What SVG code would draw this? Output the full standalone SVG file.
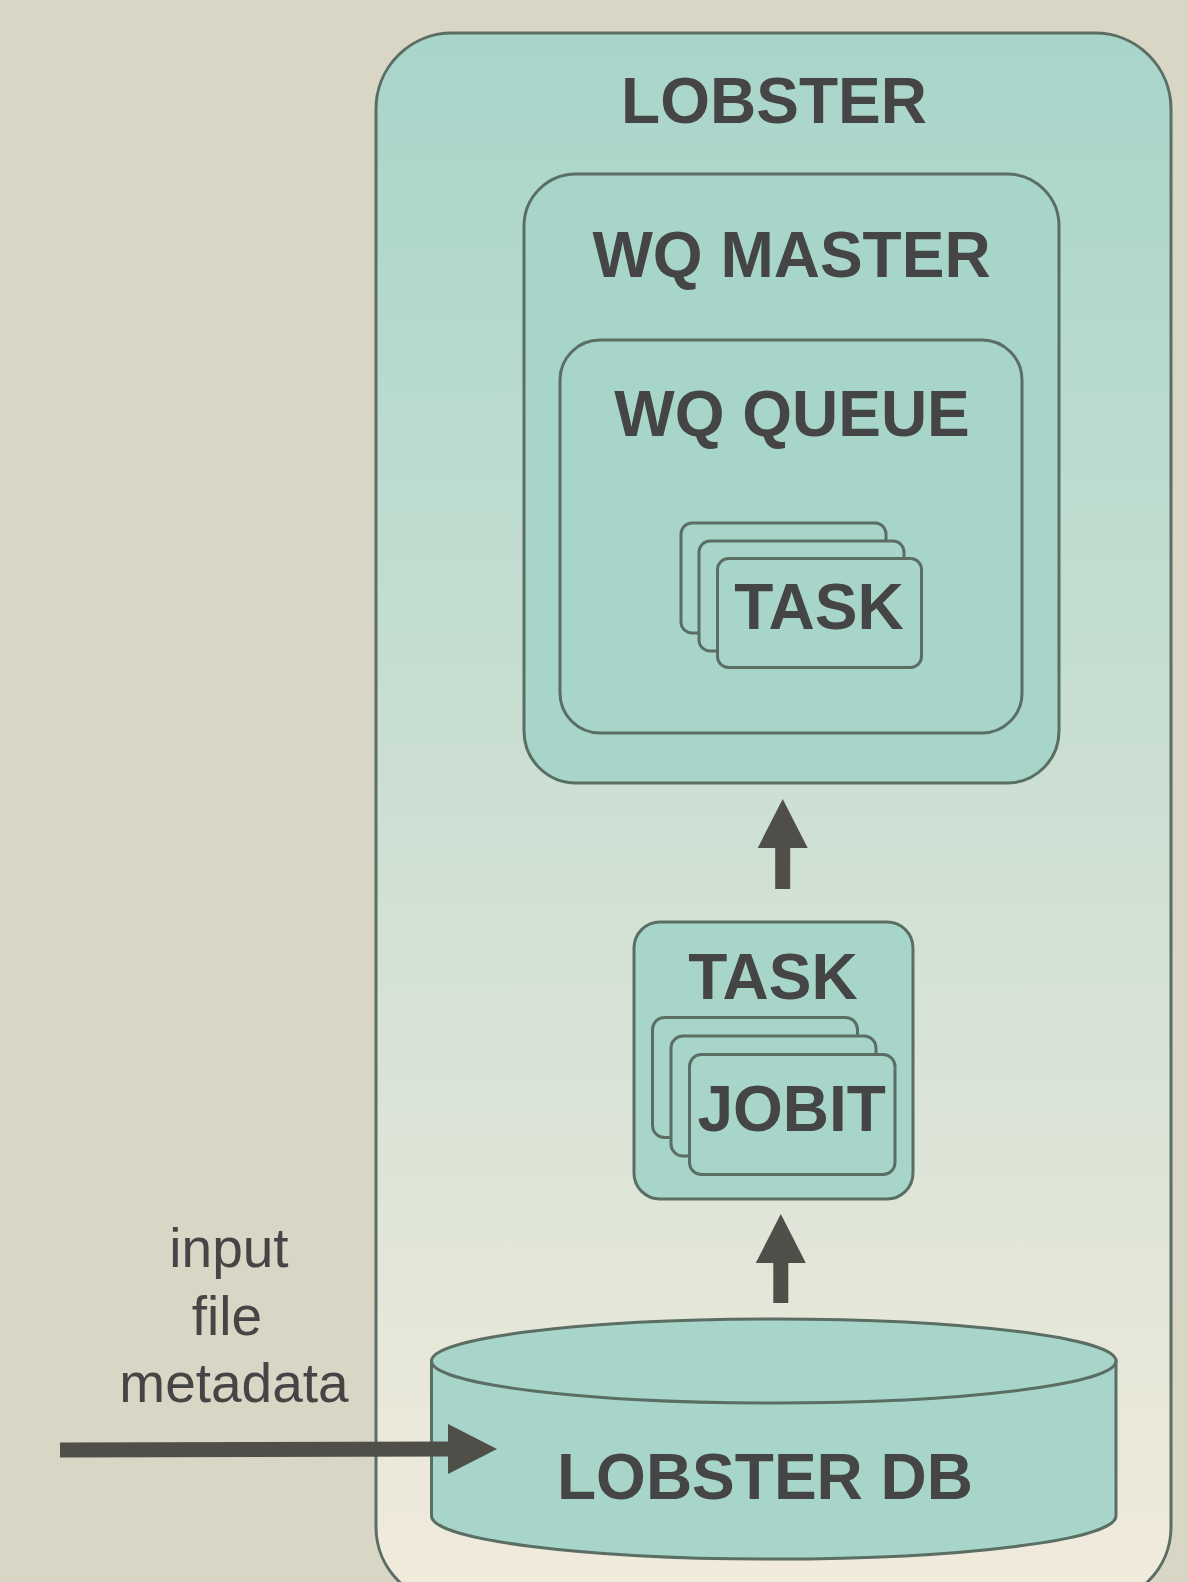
<svg xmlns="http://www.w3.org/2000/svg" width="1188" height="1582" viewBox="0 0 1188 1582">
<style>
.box{fill:#A8D5CA;stroke:#5A6E64;stroke-width:3}
.lbl{font-family:"Liberation Sans",Arial,sans-serif;font-weight:bold;font-size:64px;fill:#454545;text-anchor:middle}
.note{font-family:"Liberation Sans",Arial,sans-serif;font-size:55px;fill:#454545;text-anchor:middle}
.conn{stroke:#4F4E48;stroke-width:15;fill:none}
</style>
<defs>
<linearGradient id="bg" x1="0" y1="33" x2="0" y2="1600" gradientUnits="userSpaceOnUse">
<stop offset="0" stop-color="#A8D5CA"/>
<stop offset="1" stop-color="#F2EBDC"/>
</linearGradient>
<marker id="ah" markerUnits="userSpaceOnUse" markerWidth="50" markerHeight="50" viewBox="0 0 50 50" refX="1" refY="25" orient="auto">
<path d="M0,0 L49,25 L0,50 z" fill="#4F4E48"/>
</marker>
</defs>
<rect width="1188" height="1582" fill="#D9D6C6"/>
<g id="lobster">
<rect x="376" y="33" width="795" height="1570" rx="76" ry="76" fill="url(#bg)" stroke="#5A6E64" stroke-width="3"/>
<text class="lbl" x="774" y="123">LOBSTER</text>
</g>
<g id="wq-master">
<rect class="box" x="524" y="174" width="535" height="609" rx="52" ry="52"/>
<text class="lbl" x="791.5" y="277">WQ MASTER</text>
</g>
<g id="wq-queue">
<rect class="box" x="560" y="340" width="462" height="393" rx="40" ry="40"/>
<text class="lbl" x="792" y="436">WQ QUEUE</text>
</g>
<g id="queue-tasks">
<rect class="box" x="681" y="523" width="205" height="110" rx="11" ry="11"/>
<rect class="box" x="699" y="541" width="205" height="110" rx="11" ry="11"/>
<rect class="box" x="717.5" y="558.5" width="204" height="109" rx="11" ry="11"/>
<text class="lbl" x="819" y="629">TASK</text>
</g>
<g id="task">
<rect class="box" x="634" y="922" width="279" height="277" rx="26" ry="26"/>
<text class="lbl" x="773" y="999">TASK</text>
</g>
<g id="jobits">
<rect class="box" x="652.5" y="1017.5" width="205" height="120" rx="12" ry="12"/>
<rect class="box" x="671" y="1036" width="205" height="120" rx="12" ry="12"/>
<rect class="box" x="689.5" y="1054.5" width="205.5" height="120" rx="12" ry="12"/>
<text class="lbl" x="791.7" y="1131">JOBIT</text>
</g>
<g id="lobster-db">
<path class="box" d="M431.5,1361 L431.5,1516 A342.25,43 0 0 0 1116,1516 L1116,1361 Z"/>
<ellipse class="box" cx="773.75" cy="1361" rx="342.25" ry="42"/>
<text class="lbl" x="765" y="1499">LOBSTER DB</text>
</g>
<g id="input-label">
<text class="note" x="229" y="1267">input</text>
<text class="note" x="227" y="1335">file</text>
<text class="note" x="234" y="1402">metadata</text>
</g>
<g id="connectors">
<path class="conn" d="M782.7,889 L782.7,847" marker-end="url(#ah)"/>
<path class="conn" d="M780.8,1303 L780.8,1262" marker-end="url(#ah)"/>
<path class="conn" d="M60,1450 L449,1449" marker-end="url(#ah)"/>
</g>
</svg>
